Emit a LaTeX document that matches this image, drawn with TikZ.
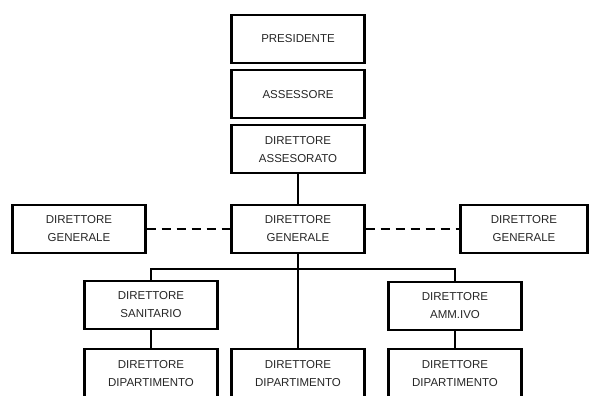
\documentclass[tikz,border=0pt]{standalone}
\usepackage{fontspec}
\setmainfont{Liberation Sans}
\usetikzlibrary{positioning}
\tikzset{
    office/.style = {draw, line width=2.1pt, minimum width=133pt, minimum height=48pt,
                     inner sep=2pt, align=center, text=black!85,
                     font=\fontsize{11.5}{18}\selectfont},
    link/.style = {line width=2.3pt},
    deputy/.style = {line width=2.8pt, dash pattern=on 9pt off 6pt}
}

\begin{document}
\begin{tikzpicture}[x=1pt, y=-1pt]
        \useasboundingbox (0,0) rectangle (589,396);
        \clip (0,0) rectangle (589,396);

        % vertice
        \node[office] (pres) at (298,39) {PRESIDENTE};
        \node[office, below=5pt of pres] (ass) {ASSESSORE};
        \node[office, below=5pt of ass] (dirass) {DIRETTORE\\ASSESORATO};

        % direttori generali
        \node[office] (dg) at (298,229) {DIRETTORE\\GENERALE};
        \node[office] (dgL) at (79,229) {DIRETTORE\\GENERALE};
        \node[office, minimum width=127pt] (dgR) at (524,229) {DIRETTORE\\GENERALE};

        % direttori sanitario e amministrativo
        \node[office] (san) at (151,305) {DIRETTORE\\SANITARIO};
        \node[office] (amm) at (455,306) {DIRETTORE\\AMM.IVO};

        % dipartimenti
        \node[office, minimum height=50pt] (dipL) at (151,374) {DIRETTORE\\DIPARTIMENTO};
        \node[office, minimum height=50pt] (dipM) at (298,374) {DIRETTORE\\DIPARTIMENTO};
        \node[office, minimum height=50pt] (dipR) at (455,374) {DIRETTORE\\DIPARTIMENTO};

        \coordinate (bus) at (298,269);

        \draw[link] (dirass) -- (dg);
        \draw[deputy] (dgL.east) -- (dg.west);
        \draw[deputy] (dg.east) -- (dgR.west);
        \draw[link] (dg.south) -- (bus) -- (dipM.north);
        \draw[link] (san.north) |- (bus) -| (amm.north);
        \draw[link] (san) -- (dipL);
        \draw[link] (amm) -- (dipR);
    \end{tikzpicture}
\end{document}
